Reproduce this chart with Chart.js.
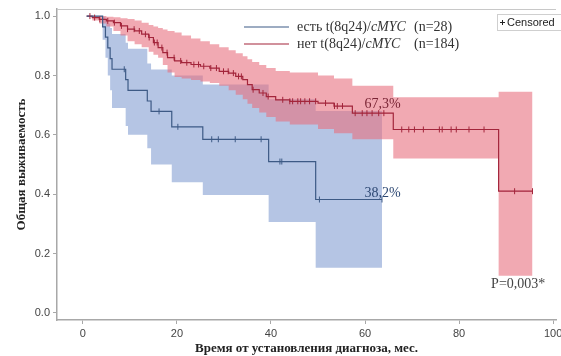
<!DOCTYPE html>
<html>
<head>
<meta charset="utf-8">
<script src="https://cdn.jsdelivr.net/npm/chart.js@4.4.1/dist/chart.umd.min.js"></script>
<style>
  html, body { margin: 0; padding: 0; background: #fff; }
</style>
</head>
<body>
<canvas id="km-chart" width="561" height="356"></canvas>
<script>
// оси
const xTicks = [0, 20, 40, 60, 80, 100];
const yTicks = [0, 0.2, 0.4, 0.6, 0.8, 1.0];

// есть t(8q24)/cMYC (n=28)
const blueT  = [0.8, 4.2, 4.8, 5.3, 5.8, 6.2, 9.1, 9.6, 13.7, 14.5, 18.9, 25.5, 39.5, 49.5, 63.6];
const blueS  = [1, 0.964, 0.929, 0.893, 0.857, 0.821, 0.786, 0.750, 0.714, 0.679, 0.627, 0.585, 0.510, 0.382, 0.382];
const blueHi = [1, 0.998, 0.99, 0.975, 0.96, 0.94, 0.91, 0.89, 0.84, 0.82, 0.80, 0.77, 0.72, 0.68, 0.68];
const blueLo = [1, 0.92, 0.86, 0.80, 0.75, 0.69, 0.63, 0.60, 0.555, 0.50, 0.44, 0.397, 0.306, 0.152, 0.152];
const blueCensored = [8.8, 16.2, 20.2, 27.4, 28.8, 32.4, 37.9, 41.9, 42.3, 50.3, 63.6];

// нет t(8q24)/cMYC (n=184)
const redT  = [0.8, 2, 3.5, 5, 6.5, 8, 9.5, 11, 12.5, 14, 15, 16, 17, 18, 19.5, 21, 23, 25, 27, 29, 31, 32.5, 34, 35, 36, 37.5, 39, 41, 44, 50, 53.4, 57.3, 66, 88.4, 95.6];
const redS  = [1, 0.995, 0.989, 0.984, 0.978, 0.967, 0.956, 0.950, 0.939, 0.928, 0.911, 0.894, 0.877, 0.860, 0.849, 0.843, 0.837, 0.831, 0.825, 0.814, 0.808, 0.797, 0.786, 0.769, 0.752, 0.741, 0.729, 0.718, 0.713, 0.707, 0.697, 0.673, 0.618, 0.41, 0.41];
const redHi = [1, 1, 1, 0.998, 0.996, 0.993, 0.99, 0.985, 0.978, 0.97, 0.965, 0.96, 0.955, 0.95, 0.945, 0.935, 0.925, 0.915, 0.905, 0.895, 0.885, 0.875, 0.865, 0.855, 0.845, 0.835, 0.825, 0.815, 0.81, 0.80, 0.79, 0.765, 0.727, 0.745, 0.745];
const redLo = [1, 0.985, 0.975, 0.965, 0.95, 0.935, 0.915, 0.905, 0.895, 0.88, 0.87, 0.86, 0.835, 0.81, 0.795, 0.79, 0.785, 0.78, 0.775, 0.765, 0.75, 0.735, 0.72, 0.705, 0.69, 0.675, 0.66, 0.645, 0.635, 0.62, 0.605, 0.585, 0.52, 0.125, 0.125];
const redCensored = [1.5, 2.5, 3.6, 5.3, 6.7, 8.2, 9.5, 10.9, 12, 13.3, 14.1, 15.2, 15.8, 16.8, 17.9, 19.4, 20.8, 22.1, 23.6, 24.6, 25.7, 27.2, 28.4, 29.9, 30.9, 32, 33.1,
  33.7, 36.2, 38.3, 39.4, 42.5, 44, 44.6, 45.7, 46.3, 47.2, 48.2, 49.5, 51.6, 53.5, 54.1, 55.2, 57.9, 59.4, 60.4, 61.5, 62.9, 64,
  67.8, 69.3, 70.5, 72.4, 75.8, 76.4, 78.3, 79.4, 82.1, 85.3, 91.8, 95.6];

// подписи на графике
const notes = [
  { text: "67,3%", t: 59.9, s: 0.69, color: "#7a2535" },
  { text: "38,2%", t: 59.9, s: 0.39, color: "#2d4873" },
  { text: "P=0,003*", t: 86.8, s: 0.085, color: "#444444" }
];

const blueLine = "#3d5a85";
const redLine = "#a3253b";

function pts(ts, vs) {
    return ts.map(function (t, i) { return { x: t, y: vs[i] }; });
}
function levelAt(ts, vs, t) {
    let v = vs[0];
    for (let i = 0; i < ts.length; i++) {
        if (ts[i] <= t) v = vs[i];
    }
    return v;
}
function censorPts(times, ts, vs) {
    return times.map(function (t) { return { x: t, y: levelAt(ts, vs, t) }; });
}

// легенда, рамка, подписи
const extras = {
    id: "extras",
    afterDraw: function (chart) {
        const ctx = chart.ctx;
        const a = chart.chartArea;
        const xs = chart.scales.x, ys = chart.scales.y;
        ctx.save();

        // верхняя рамка
        ctx.strokeStyle = "#c8c8c8";
        ctx.lineWidth = 1;
        ctx.beginPath();
        ctx.moveTo(a.left, a.top + 0.5);
        ctx.lineTo(a.right, a.top + 0.5);
        ctx.stroke();

        // легенда серий
        const rows = [
            { y: 27, color: blueLine, pre: "есть t(8q24)/", n: "(n=28)" },
            { y: 44, color: redLine, pre: "нет t(8q24)/", n: "(n=184)" }
        ];
        ctx.textBaseline = "middle";
        rows.forEach(function (r) {
            ctx.strokeStyle = r.color;
            ctx.lineWidth = 1.2;
            ctx.beginPath();
            ctx.moveTo(244, r.y);
            ctx.lineTo(289, r.y);
            ctx.stroke();
            ctx.fillStyle = "#333";
            ctx.font = '14px "Liberation Serif", serif';
            ctx.fillText(r.pre, 297, r.y);
            const w = ctx.measureText(r.pre).width;
            ctx.font = 'italic 14px "Liberation Serif", serif';
            ctx.fillText("cMYC", 297 + w, r.y);
            ctx.font = '14px "Liberation Serif", serif';
            ctx.fillText(r.n, 414, r.y);
        });

        // Censored
        ctx.fillStyle = "#fff";
        ctx.fillRect(497.5, 14.5, 70, 16);
        ctx.strokeStyle = "#cfcfcf";
        ctx.lineWidth = 1;
        ctx.strokeRect(497.5, 14.5, 70, 16);
        ctx.strokeStyle = "#222";
        ctx.beginPath();
        ctx.moveTo(500, 22.5); ctx.lineTo(505, 22.5);
        ctx.moveTo(502.5, 20); ctx.lineTo(502.5, 25);
        ctx.stroke();
        ctx.fillStyle = "#222";
        ctx.font = '11px "Liberation Sans", Arial, sans-serif';
        ctx.fillText("Censored", 507, 23);

        // подписи
        ctx.font = '14px "Liberation Serif", serif';
        ctx.textBaseline = "alphabetic";
        notes.forEach(function (n) {
            ctx.fillStyle = n.color;
            ctx.fillText(n.text, xs.getPixelForValue(n.t), ys.getPixelForValue(n.s));
        });
        ctx.restore();
    }
};

const bandOpts = { pointRadius: 0, borderWidth: 0, stepped: true, tension: 0 };

new Chart(document.getElementById("km-chart"), {
    type: "line",
    data: {
        datasets: [
            Object.assign({ data: pts(blueT, blueHi), fill: false, order: 6 }, bandOpts),
            Object.assign({ data: pts(blueT, blueLo), fill: "-1", backgroundColor: "#b5c5e4", order: 6 }, bandOpts),
            Object.assign({ data: pts(redT, redHi), fill: false, order: 5 }, bandOpts),
            Object.assign({ data: pts(redT, redLo), fill: "-1", backgroundColor: "rgba(232,112,127,0.6)", order: 5 }, bandOpts),
            { data: pts(blueT, blueS), stepped: true, borderColor: blueLine, borderWidth: 1.2, pointRadius: 0, fill: false, order: 2 },
            { data: pts(redT, redS), stepped: true, borderColor: redLine, borderWidth: 1.2, pointRadius: 0, fill: false, order: 2 },
            { data: censorPts(blueCensored, blueT, blueS), showLine: false, pointStyle: "line", rotation: 90, pointRadius: 3,
              pointBorderColor: blueLine, pointBorderWidth: 1, order: 1 },
            { data: censorPts(redCensored, redT, redS), showLine: false, pointStyle: "line", rotation: 90, pointRadius: 3,
              pointBorderColor: redLine, pointBorderWidth: 1, order: 1 }
        ]
    },
    options: {
        responsive: false,
        animation: false,
        layout: { padding: { top: 9, left: 0, right: 0, bottom: 0 } },
        plugins: { legend: { display: false }, tooltip: { enabled: false } },
        scales: {
            x: {
                type: "linear",
                min: -5.5,
                max: 100.6,
                afterBuildTicks: function (s) { s.ticks = xTicks.map(function (v) { return { value: v }; }); },
                afterFit: function (s) { s.height = 36; s.paddingLeft = 0; s.paddingRight = 0; },
                grid: { drawOnChartArea: false, drawTicks: true, tickLength: 4, color: "#a8a8a8" },
                border: { color: "#a8a8a8", width: 1.5 },
                ticks: { color: "#444", font: { size: 11 }, padding: 3, maxRotation: 0,
                         callback: function (v) { return String(v); } },
                title: { display: true, text: "Время от установления диагноза, мес.", color: "#222",
                         font: { family: '"Liberation Serif", serif', size: 13, weight: "bold" },
                         padding: { top: 0, bottom: 0 } }
            },
            y: {
                min: -0.024,
                max: 1.024,
                afterBuildTicks: function (s) { s.ticks = yTicks.map(function (v) { return { value: v }; }); },
                afterFit: function (s) { s.width = 57; s.paddingTop = 0; s.paddingBottom = 0; },
                grid: { drawOnChartArea: false, drawTicks: true, tickLength: 4, color: "#a8a8a8" },
                border: { color: "#a8a8a8", width: 1.5 },
                ticks: { color: "#444", font: { size: 11 }, padding: 3,
                         callback: function (v) { return Number(v).toFixed(1); } },
                title: { display: true, text: "Общая выживаемость", color: "#222",
                         font: { family: '"Liberation Serif", serif', size: 13, weight: "bold" },
                         padding: { top: 14, bottom: 0 } }
            }
        }
    },
    plugins: [extras]
});
</script>
</body>
</html>
